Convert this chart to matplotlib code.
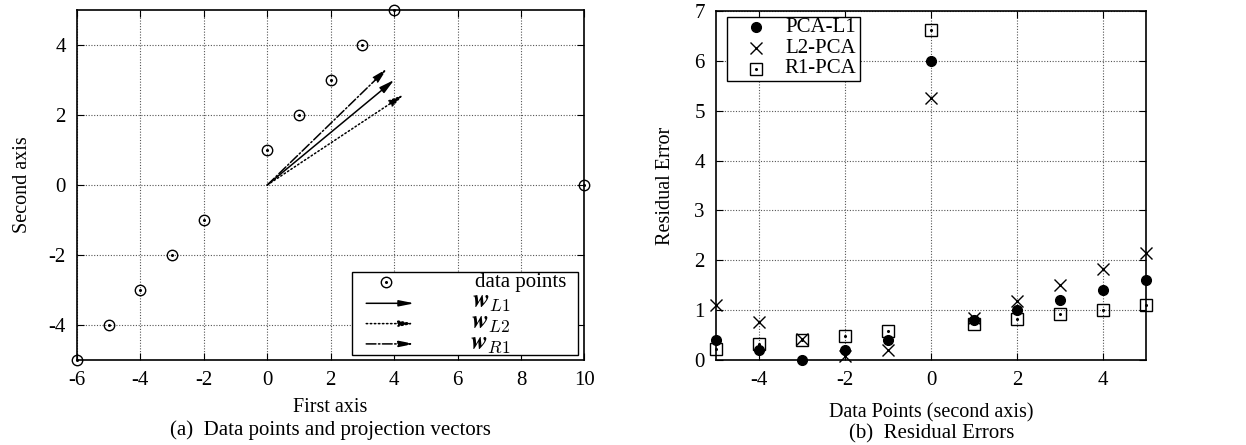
#!/usr/bin/env python3
# -*- coding: utf-8 -*-

import numpy as np
import matplotlib
matplotlib.use("Agg")
import matplotlib.pyplot as plt
from matplotlib.patches import Rectangle

plt.rcParams['font.family'] = ['Liberation Serif', 'DejaVu Serif']
plt.rcParams['mathtext.fontset'] = 'cm'
plt.rcParams['axes.unicode_minus'] = False

# (a) data points
pts_x = [-6, -5, -4, -3, -2, 0, 1, 2, 3, 4, 10]
pts_y = [-5, -4, -3, -2, -1, 1, 2, 3, 4, 5, 0]

# projection vectors (scaled for display)
vec_names = [r'$\boldsymbol{w}_{L1}$', r'$\boldsymbol{w}_{L2}$', r'$\boldsymbol{w}_{R1}$']
vec_x = [4.0, 4.3, 3.77]
vec_y = [3.0, 2.58, 3.32]
vec_styles = ['-', ':', '-.']

# (b) residual errors
res_x = [-5, -4, -3, -2, -1, 0, 1, 2, 3, 4, 5]
err_pcal1 = [0.4, 0.2, 0.0, 0.2, 0.4, 6.0, 0.8, 1.0, 1.2, 1.4, 1.6]
err_l2pca = [1.1, 0.77, 0.43, 0.08, 0.2, 5.25, 0.85, 1.18, 1.5, 1.83, 2.15]
err_r1pca = [0.23, 0.32, 0.4, 0.48, 0.58, 6.62, 0.73, 0.82, 0.92, 1.0, 1.1]

fig = plt.figure(figsize=(12.46, 4.45), dpi=100)
ax1 = fig.add_axes([0.0618, 0.191, 0.4072, 0.7865])
ax2 = fig.add_axes([0.5746, 0.191, 0.3451, 0.7845])

tick_fs = 15
lab_fs = 14.5


def gnu_style(ax):
    ax.tick_params(direction='in', top=True, right=True, length=5,
                   labelsize=tick_fs, pad=8)
    ax.grid(True, color='#555555', linestyle=(0, (1, 1.5)), linewidth=0.8)
    for s in ax.spines.values():
        s.set_linewidth(1.2)


def dotted_mark(ax, x, y, marker, size):
    ax.plot(x, y, linestyle='none', marker=marker, markersize=size,
            markerfacecolor='none', markeredgecolor='black',
            markeredgewidth=1.0, clip_on=False, zorder=4)
    ax.plot(x, y, linestyle='none', marker='o', markersize=1.2,
            color='black', clip_on=False, zorder=4)


# ---- (a) ----
gnu_style(ax1)
ax1.set_xlim(-6, 10)
ax1.set_ylim(-5, 5)
ax1.set_xticks(range(-6, 11, 2))
ax1.set_yticks(range(-4, 5, 2))
dotted_mark(ax1, pts_x, pts_y, 'o', 7.5)

for vx, vy, ls in zip(vec_x, vec_y, vec_styles):
    ax1.annotate('', xy=(vx, vy), xytext=(0, 0),
                 arrowprops=dict(arrowstyle='-|>,head_length=0.9,head_width=0.22',
                                 linestyle=ls, color='black', lw=1.1,
                                 shrinkA=0, shrinkB=0), zorder=5)

ax1.set_ylabel('Second axis', fontsize=lab_fs, labelpad=12)
fig.text(0.265, 0.075, 'First axis', ha='center', fontsize=lab_fs)
fig.text(0.265, 0.022, '(a)  Data points and projection vectors', ha='center',
         fontsize=15)

# legend box for (a)
ax1.add_patch(Rectangle((0.542, 0.014), 0.445, 0.237, transform=ax1.transAxes,
                        facecolor='white', edgecolor='black', lw=1.0, zorder=6))
row_y = [0.222, 0.162, 0.104, 0.046]
dotted_mark(ax1, [0.61], [row_y[0]], 'o', 7.5)
for ln in ax1.lines[-2:]:
    ln.set_transform(ax1.transAxes)
    ln.set_zorder(7)
ax1.text(0.965, row_y[0], 'data points', transform=ax1.transAxes, ha='right',
         va='center', fontsize=15, zorder=7)
for i, (nm, ls) in enumerate(zip(vec_names, vec_styles)):
    yy = row_y[i + 1]
    ax1.annotate('', xy=(0.665, yy), xytext=(0.57, yy), xycoords='axes fraction',
                 textcoords='axes fraction',
                 arrowprops=dict(arrowstyle='-|>,head_length=0.9,head_width=0.18',
                                 linestyle=ls, color='black', lw=1.1,
                                 shrinkA=0, shrinkB=0), zorder=7)
    ax1.text(0.855, yy, nm, transform=ax1.transAxes, ha='right', va='center',
             fontsize=18, zorder=7)

# ---- (b) ----
gnu_style(ax2)
ax2.set_xlim(-5, 5)
ax2.set_ylim(0, 7)
ax2.set_xticks(range(-4, 5, 2))
ax2.set_yticks(range(0, 8))
ax2.plot(res_x, err_pcal1, linestyle='none', marker='o', markersize=7,
         color='black', clip_on=False, zorder=4)
ax2.plot(res_x, err_l2pca, linestyle='none', marker='x', markersize=8,
         color='black', markeredgewidth=1.0, clip_on=False, zorder=4)
dotted_mark(ax2, res_x, err_r1pca, 's', 8)

ax2.set_ylabel('Residual Error', fontsize=lab_fs, labelpad=14)
fig.text(0.7475, 0.062, 'Data Points (second axis)', ha='center', fontsize=lab_fs)
fig.text(0.7475, 0.015, '(b)  Residual Errors', ha='center', fontsize=15)

# legend box for (b)
ax2.add_patch(Rectangle((0.025, 0.8), 0.31, 0.183, transform=ax2.transAxes,
                        facecolor='white', edgecolor='black', lw=1.0, zorder=6))
leg_y = [0.953, 0.893, 0.835]
ax2.plot([0.093], [leg_y[0]], marker='o', markersize=7, color='black',
         transform=ax2.transAxes, zorder=7)
ax2.plot([0.093], [leg_y[1]], marker='x', markersize=8, color='black',
         markeredgewidth=1.0, transform=ax2.transAxes, zorder=7)
ax2.plot([0.093], [leg_y[2]], marker='s', markersize=8, markerfacecolor='none',
         markeredgecolor='black', transform=ax2.transAxes, zorder=7)
ax2.plot([0.093], [leg_y[2]], marker='o', markersize=1.2, color='black',
         transform=ax2.transAxes, zorder=7)
for yy, nm in zip(leg_y, ['PCA-L1', 'L2-PCA', 'R1-PCA']):
    ax2.text(0.325, yy, nm, transform=ax2.transAxes, ha='right', va='center',
             fontsize=15, zorder=7)

plt.savefig('out.png', dpi=100)
